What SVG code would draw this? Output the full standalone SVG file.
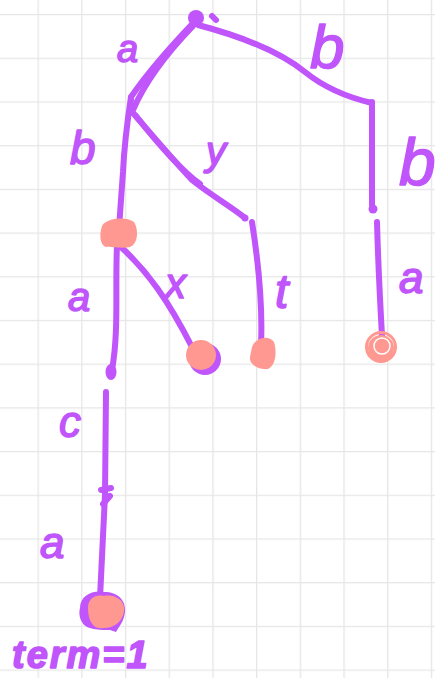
<svg xmlns="http://www.w3.org/2000/svg" width="435" height="678" viewBox="0 0 435 678">
<style>
.e{fill:none;stroke:#bf55fa;stroke-width:6;stroke-linecap:round;stroke-linejoin:round}
.p{fill:#bf55fa}
.s{fill:#ff9890}
.l{font-family:"Liberation Sans",sans-serif;fill:#bf55fa;stroke:#bf55fa;stroke-width:1.5;stroke-linejoin:round;font-style:italic}
</style>
<defs>
<pattern id="g" x="37.5" y="14" width="43.7" height="43.7" patternUnits="userSpaceOnUse">
<path d="M0,0V43.7M0,0H43.7" fill="none" stroke="#e6e6e6" stroke-width="2.6"/>
</pattern>
</defs>
<rect width="435" height="678" fill="#ffffff"/>
<rect width="435" height="678" fill="url(#g)"/>
<g id="connectors">
<path class="e" d="M196,20 C172,45 148,72 131,97"/>
<path class="e" d="M193,26 C168,52 145,82 133,110"/>
<path class="e" d="M198,25 C240,36 280,52 305,72 C325,88 350,98 372,103"/>
<path class="e" d="M212,16 L216,20"/>
<path class="e" d="M372,102 L372,205"/>
<path class="e" d="M131,97 C126,130 124,150 123,172 L119,228"/>
<path class="e" d="M133,113 C152,135 175,162 192,180 C212,196 232,207 245,218"/>
<path class="e" d="M136,116 C155,140 178,168 200,184"/>
<path class="e" d="M117,245 C115,290 119,330 112,370"/>
<path class="e" d="M121,247 C148,272 168,300 192,347"/>
<path class="e" d="M252,222 C258,260 263,300 261,345"/>
<path class="e" d="M377,222 C378,260 380,300 382,336"/>
<path class="e" d="M106,392 L105,495 L100,598"/>
<path class="e" d="M101,490 L111,488 M103,504 L110,496"/>
</g>
<g id="n_root"><circle class="p" cx="196" cy="18" r="8"/></g>
<g id="n_a"><circle class="p" cx="131" cy="100" r="3"/></g>
<g id="n_b"><circle class="p" cx="372" cy="103" r="3"/></g>
<g id="n_bb"><circle class="p" cx="373" cy="209" r="4.5"/></g>
<g id="n_ay"><circle class="p" cx="245" cy="218" r="3.5"/></g>
<g id="n_ab"><path class="s" d="M102,226 C106,218 126,216 134,222 C139,230 138,244 130,247 C120,249 112,246 106,247 C100,245 99,235 102,226Z"/></g>
<g id="n_aba"><ellipse class="p" cx="111" cy="372" rx="5.5" ry="8"/></g>
<g id="n_abx"><circle class="p" cx="205" cy="359" r="16"/><circle class="s" cx="201" cy="355" r="15"/></g>
<g id="n_ayt"><path class="s" d="M252,347 C255,338 268,334 274,342 C277,352 276,365 268,369 C259,370 249,365 250,357Z"/></g>
<g id="n_bba"><circle class="s" cx="381" cy="348" r="13"/><circle cx="382" cy="346" r="8" fill="none" stroke="#ffffff" stroke-width="1.5"/><circle cx="381" cy="347" r="14.5" fill="none" stroke="#ff9890" stroke-width="3"/></g>
<g id="n_abac"><circle class="p" cx="106" cy="496" r="3.5"/></g>
<g id="n_abaca"><path class="p" d="M80,608 C80,596 92,590 104,592 C118,592 126,600 125,612 C124,622 118,628 116,632 L110,630 C100,630 86,630 82,622 C79,617 79,612 80,608Z"/><path class="s" d="M88,608 C88,598 96,594 104,596 C114,594 126,600 124,612 C122,622 114,628 104,628 C94,630 88,622 88,608Z"/></g>
<g id="labels">
<text class="l" x="117" y="62" font-size="38">a</text>
<text class="l" x="70" y="164" font-size="46">b</text>
<text class="l" x="206" y="165" font-size="40">y</text>
<text class="l" x="310" y="68" font-size="62">b</text>
<text class="l" x="399" y="185" font-size="66">b</text>
<text class="l" x="68" y="311" font-size="40">a</text>
<text class="l" x="165" y="298" font-size="42">x</text>
<text class="l" x="275" y="308" font-size="48">t</text>
<text class="l" x="399" y="293" font-size="44">a</text>
<text class="l" x="59" y="437" font-size="44">c</text>
<text class="l" x="40" y="558" font-size="44">a</text>
<text class="l" x="12" y="668" font-size="38" font-weight="bold" letter-spacing="2">term=1</text>
</g>
</svg>
